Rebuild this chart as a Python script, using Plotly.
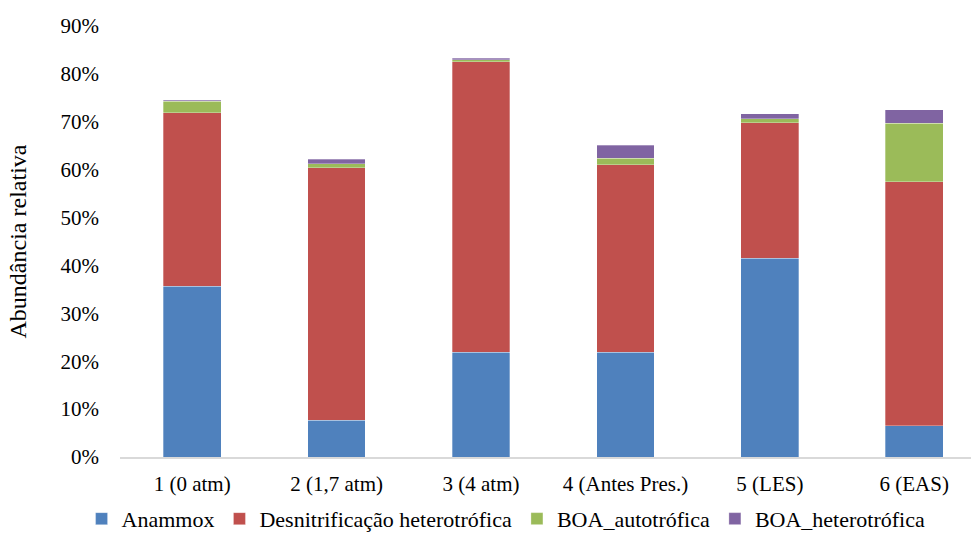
import plotly.graph_objects as go

categories = ["1 (0 atm)", "2 (1,7 atm)", "3 (4 atm)", "4 (Antes Pres.)", "5 (LES)", "6 (EAS)"]
anammox = [0.357, 0.077, 0.219, 0.219, 0.415, 0.065]
desnitrificacao = [0.362, 0.527, 0.606, 0.391, 0.283, 0.510]
boa_auto = [0.024, 0.008, 0.005, 0.014, 0.008, 0.122]
boa_het = [0.002, 0.010, 0.003, 0.027, 0.011, 0.028]

series = [
    ("Anammox", anammox, "#4F81BD"),
    ("Desnitrificação heterotrófica", desnitrificacao, "#C0504D"),
    ("BOA_autotrófica", boa_auto, "#9BBB59"),
    ("BOA_heterotrófica", boa_het, "#8064A2"),
]

fig = go.Figure()
for name, vals, color in series:
    fig.add_trace(go.Bar(
        x=list(range(len(categories))), y=vals, name=name,
        marker=dict(color=color, line=dict(color="rgba(255,255,255,0.6)", width=0.5)),
        width=0.4,
    ))

ff = "Times New Roman, Liberation Serif, serif"
fig.update_layout(
    barmode="stack",
    width=971, height=536,
    margin=dict(l=120, r=0, t=26, b=79, autoexpand=False),
    paper_bgcolor="white", plot_bgcolor="white",
    font=dict(family=ff, size=21, color="#000000"),
    showlegend=True,
    legend=dict(orientation="h", xref="container", yref="container",
                x=0.084, xanchor="left", y=0.032, yanchor="middle",
                bgcolor="rgba(0,0,0,0)",
                font=dict(family=ff, size=22, color="#000000"), traceorder="normal",
                itemwidth=30, tracegroupgap=0),
    xaxis=dict(
        tickmode="array", tickvals=list(range(len(categories))), ticktext=categories,
        range=[-0.5, 5.393],
        showline=True, linecolor="#D9D9D9", linewidth=1.5,
        showgrid=False, zeroline=False, ticks="", ticklabelstandoff=7,
        tickfont=dict(family=ff, size=21, color="#000000"),
    ),
    yaxis=dict(
        range=[0, 0.9], tickformat=".0%", dtick=0.1,
        showgrid=False, zeroline=False, showline=False,
        ticks="", ticklabelstandoff=20,
        tickfont=dict(family=ff, size=21, color="#000000"),
        title=dict(text="Abundância relativa", standoff=27,
                   font=dict(family=ff, size=24, color="#000000")),
    ),
)

fig.write_html("out.html")
